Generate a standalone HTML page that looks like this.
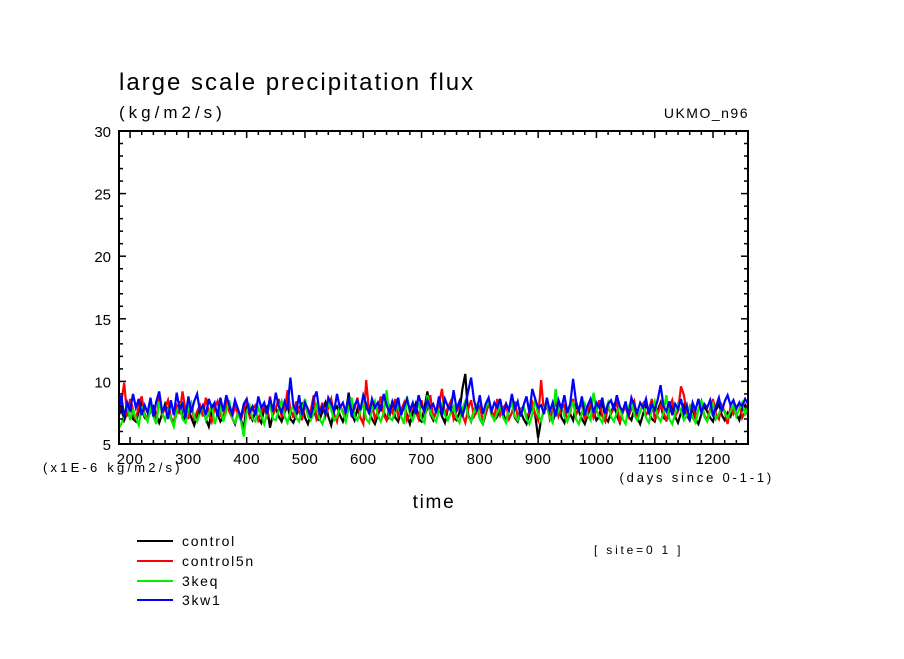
<!DOCTYPE html>
<html><head><meta charset="utf-8"><style>
body{margin:0;background:#fff;}
svg text{font-family:"Liberation Sans",sans-serif;fill:#000;}
</style></head><body>
<svg id="chart" width="904" height="654" xmlns="http://www.w3.org/2000/svg">
<defs><clipPath id="plotclip"><rect x="119" y="131" width="629" height="313"/></clipPath></defs>
<text x="119" y="90" font-size="24" letter-spacing="2">large scale precipitation flux</text>
<text x="119" y="118" font-size="17" letter-spacing="4">(kg/m2/s)</text>
<text x="749" y="118" font-size="14" letter-spacing="1.5" text-anchor="end">UKMO_n96</text>
<g id="series" clip-path="url(#plotclip)"></g>
<rect x="119" y="131" width="629" height="313" fill="none" stroke="#000" stroke-width="2"/>
<g id="axes"></g>
<text x="43" y="472" font-size="13" letter-spacing="3.2">(x1E-6 kg/m2/s)</text>
<text x="774" y="482" font-size="13" letter-spacing="2.8" text-anchor="end">(days since 0-1-1)</text>
<text x="434" y="508" font-size="19" letter-spacing="1.7" text-anchor="middle">time</text>
<text x="594" y="554" font-size="12" letter-spacing="2.8">[ site=0 1 ]</text>
<g id="legend"></g>
</svg>
<script>
const seriesNames = ["control","control5n","3keq","3kw1"];
const seriesColors = ["#000","#f00","#0e0","#00f"];
const dayStart = 180, dayStep = 5;
const xTicks = [200,300,400,500,600,700,800,900,1000,1100,1200];
const yTicks = [5,10,15,20,25,30];
const control = [
7.2,7.8,6.9,7.5,8.1,7.0,6.8,7.6,8.3,7.1,
6.9,7.7,8.0,7.3,6.7,7.4,8.2,7.6,7.0,6.6,
7.5,8.4,7.2,6.9,7.8,7.1,6.5,7.3,8.0,7.7,
7.0,6.4,7.6,8.1,7.4,6.8,7.2,7.9,8.3,7.1,
6.6,7.5,7.0,6.2,8.2,7.3,6.9,7.6,7.1,6.7,
7.8,8.0,6.3,7.4,7.9,7.2,6.8,7.5,8.1,7.0,
6.7,7.3,7.9,8.2,7.1,6.6,7.4,7.8,7.0,6.9,
7.6,8.3,7.2,6.5,7.7,8.0,7.3,6.8,7.5,9.1,
7.4,6.9,7.8,7.1,6.7,8.2,7.5,7.0,6.6,7.3,
8.0,7.6,6.9,7.2,8.4,7.1,6.8,7.7,8.1,7.3,
6.6,7.5,8.2,7.0,6.8,7.9,9.2,7.4,6.9,7.6,
8.0,7.2,6.7,7.8,8.3,7.1,6.9,7.5,9.4,10.6,
7.3,6.8,7.7,8.1,7.0,6.6,7.4,8.2,7.6,6.9,
7.2,8.0,7.5,6.7,7.9,8.3,7.1,6.8,7.6,7.0,
6.6,7.4,8.1,7.3,5.5,6.9,7.7,8.0,7.2,6.8,
7.5,8.2,7.1,6.7,7.8,7.4,6.9,8.1,7.6,7.0,
6.6,7.3,8.0,7.7,6.9,7.2,8.4,7.1,6.8,7.5,
8.1,7.3,6.7,7.6,8.0,7.2,6.9,7.8,7.1,6.6,
7.4,8.2,7.5,7.0,6.8,7.7,8.3,7.1,6.9,7.6,
8.0,7.2,6.7,7.5,8.1,7.3,6.9,7.8,7.0,6.6,
7.4,8.0,7.6,7.1,6.8,7.7,8.2,7.3,6.9,7.5,
7.2,8.0,7.4,6.9,7.8,8.1,7.3,7.0,7.6,7.2
];
const control5n = [
7.5,8.3,9.9,7.2,8.6,7.8,6.9,8.1,8.8,7.4,
7.0,8.2,7.6,6.8,8.9,7.3,7.9,8.5,7.1,6.7,
8.0,7.4,9.2,7.7,7.0,8.3,6.9,7.6,8.1,7.2,
8.7,7.5,6.8,7.9,8.4,7.3,7.0,8.6,7.6,7.1,
8.0,7.4,6.9,7.7,8.5,7.2,7.8,8.1,6.9,7.5,
8.3,7.0,8.8,7.3,7.9,8.6,7.2,7.5,9.3,7.8,
7.1,8.4,7.6,6.9,8.2,7.3,7.7,8.9,7.0,7.5,
8.3,7.2,7.9,8.6,7.4,6.8,8.1,7.6,7.0,8.4,
7.3,7.8,8.7,7.1,6.6,10.1,7.5,8.2,7.0,7.6,
8.8,7.3,6.9,8.0,7.5,8.6,7.2,7.7,8.3,6.9,
7.4,8.1,7.6,7.0,8.5,7.3,7.8,8.9,7.1,7.5,
8.2,9.4,7.3,7.9,8.4,7.0,7.6,8.1,7.3,6.7,
7.8,8.5,7.2,7.6,8.0,6.9,7.4,8.3,7.7,7.1,
8.6,7.3,7.9,8.2,7.0,7.5,8.4,7.2,7.8,8.0,
7.1,7.6,8.3,7.4,6.9,10.1,7.5,8.2,7.0,7.7,
8.4,7.2,7.8,8.1,6.8,7.5,8.6,7.3,7.9,8.2,
6.9,7.6,8.3,7.1,7.7,8.5,7.2,6.8,8.0,7.4,
7.9,8.3,6.7,7.5,8.1,7.2,7.8,8.4,6.9,7.6,
8.2,7.3,7.7,8.6,7.0,7.4,8.1,7.6,6.8,7.9,
8.5,7.2,7.6,9.6,8.9,7.5,7.9,8.2,7.1,7.7,
8.4,7.3,6.9,7.8,8.6,7.4,7.0,8.1,7.6,6.6,
8.0,7.4,7.9,8.3,7.1,7.6,8.2,7.5,7.0,7.8
];
const keq3 = [
6.2,6.6,7.4,8.2,6.9,7.7,7.1,6.5,8.0,7.3,
6.8,7.9,7.2,6.6,8.4,7.5,6.9,7.7,7.0,6.4,
7.6,8.1,7.0,6.7,7.8,8.3,7.2,6.8,7.5,8.0,
6.9,7.4,8.2,6.6,7.3,7.9,6.8,7.6,8.5,7.1,
6.7,7.4,6.9,5.6,7.6,8.1,7.0,6.8,7.9,7.3,
6.6,7.5,8.2,7.0,6.9,7.7,8.4,7.2,6.7,7.6,
8.0,7.1,6.8,7.8,8.6,7.3,6.9,7.5,8.1,7.0,
6.6,7.4,8.3,7.7,6.9,7.2,8.0,7.5,6.8,7.9,
8.7,7.2,6.9,7.6,8.2,7.0,6.7,7.8,8.4,7.3,
6.8,7.5,9.3,7.1,6.9,7.7,8.1,7.2,6.6,8.8,
7.4,6.9,7.6,8.3,7.0,6.7,8.9,7.5,7.1,6.8,
7.7,8.2,7.3,6.9,7.5,8.0,7.1,6.7,7.8,8.4,
7.2,6.8,7.6,8.1,7.0,6.6,7.9,8.5,7.3,6.9,
7.5,8.2,7.1,6.7,7.8,8.3,7.2,6.9,7.6,8.0,
7.0,6.6,7.4,8.6,7.3,6.8,7.9,8.2,7.1,6.7,
9.4,7.6,8.1,7.2,6.8,7.7,8.4,7.0,6.6,7.5,
8.2,7.3,6.9,9.1,7.8,7.1,6.7,7.6,8.3,7.2,
6.8,7.5,8.0,7.0,6.6,7.9,8.5,7.3,6.9,7.6,
8.1,7.1,6.7,7.8,8.4,7.2,6.8,7.5,8.9,7.0,
6.6,7.4,8.2,7.6,6.9,7.3,8.0,7.1,6.7,7.7,
8.5,7.2,6.8,7.6,8.2,7.0,7.4,8.0,7.5,7.1,
7.6,8.1,7.2,7.8,8.3,7.4,7.9,8.2,7.6,7.8
];
const kw1_3 = [
7.4,8.9,7.1,8.3,7.6,9.0,7.9,8.6,7.3,8.1,
7.5,8.7,7.2,8.4,9.2,7.6,8.0,7.0,8.5,7.3,
9.1,7.8,8.2,7.1,8.8,7.5,8.4,9.0,7.6,8.1,
7.3,8.6,7.9,8.3,7.2,8.7,7.6,8.9,8.1,7.4,
8.5,7.8,7.1,8.2,8.6,7.5,8.0,7.3,8.8,7.9,
8.3,7.4,8.7,7.6,9.1,8.0,7.5,8.4,7.8,10.3,
8.1,7.6,8.9,7.3,8.3,7.8,7.1,8.6,9.2,7.5,
8.0,7.4,8.7,8.2,7.6,9.0,7.9,8.3,7.5,8.8,
7.2,8.1,8.5,7.7,8.9,8.2,7.4,8.6,7.9,8.3,
7.6,9.0,8.1,7.5,8.4,7.8,8.7,7.3,8.0,8.6,
7.7,8.3,7.4,8.9,8.1,7.6,8.5,7.9,8.2,7.5,
8.8,7.3,8.6,8.0,7.7,9.3,7.8,8.4,7.2,8.1,
9.2,10.3,8.5,7.6,8.9,7.4,8.2,8.7,7.6,8.3,
7.9,8.6,7.3,8.2,7.7,9.0,7.8,8.4,7.2,8.1,
8.8,7.5,9.4,8.6,7.9,8.1,7.4,8.7,7.6,8.3,
7.2,8.5,7.8,8.9,7.5,8.2,10.2,8.4,7.6,8.8,
7.3,8.1,8.6,7.5,8.3,7.9,8.7,7.4,8.2,8.5,
7.7,8.9,8.0,7.6,8.4,7.2,8.7,8.1,7.5,8.3,
7.9,8.6,7.4,8.2,7.7,8.5,9.7,8.0,7.6,8.4,
7.3,8.2,7.8,8.6,7.4,8.1,6.9,8.3,7.7,8.6,
7.5,8.2,7.9,8.5,7.2,8.0,8.7,7.6,8.4,8.9,
8.1,8.5,7.8,8.3,8.0,8.6,8.2,7.9,8.4,8.1
];
const seriesData = [control, control5n, keq3, kw1_3];

const X0=119, X1=748, Y0=444, Y1=131, dMin=181, dMax=1260, vMin=5, vMax=30;
const xs = d => X0 + (d-dMin)/(dMax-dMin)*(X1-X0);
const ys = v => Y0 - (v-vMin)/(vMax-vMin)*(Y0-Y1);
const NS="http://www.w3.org/2000/svg";
function mk(tag, attrs){const e=document.createElementNS(NS,tag);for(const k in attrs)e.setAttribute(k,attrs[k]);return e;}

const sg=document.getElementById('series');
seriesData.forEach((arr,si)=>{
  const pts=arr.map((v,i)=>xs(dayStart+i*dayStep).toFixed(1)+","+ys(v).toFixed(1)).join(" ");
  const pl=mk('polyline',{points:pts,fill:'none',stroke:seriesColors[si],'stroke-width':2.2,'stroke-linejoin':'miter'});
  
  
  sg.appendChild(pl);
});

const ag=document.getElementById('axes');
for(let d=200; d<=1260; d+=20){
  const major = xTicks.includes(d), len = major?7:4;
  const x=xs(d);
  [[Y0,Y0-len],[Y1,Y1+len]].forEach(([a,b])=>{
    const t=mk('line',{x1:x,x2:x,y1:a,y2:b,stroke:'#000','stroke-width':1.5});
    
    
    ag.appendChild(t);
  });
}
xTicks.forEach(d=>{
  const t=mk('text',{x:xs(d),y:464,'font-size':15,'text-anchor':'middle','letter-spacing':0.5});
  t.textContent=d;
  
  
  ag.appendChild(t);
});
for(let v=6; v<30; v++){
  const major = yTicks.includes(v), len = major?7:4;
  const y=ys(v);
  [[X0,X0+len],[X1,X1-len]].forEach(([a,b])=>{
    const t=mk('line',{x1:a,x2:b,y1:y,y2:y,stroke:'#000','stroke-width':1.5});
    
    
    ag.appendChild(t);
  });
}
yTicks.forEach(v=>{
  const t=mk('text',{x:111,y:ys(v)+6,'font-size':15,'text-anchor':'end'});
  t.textContent=v;
  
  
  ag.appendChild(t);
});

const lg=document.getElementById('legend');
const legendY=[541,561,581,600];
seriesNames.forEach((n,i)=>{
  const l=mk('line',{x1:137,x2:173,y1:legendY[i],y2:legendY[i],stroke:seriesColors[i],'stroke-width':2});
  
  
  lg.appendChild(l);
  const t=mk('text',{x:182,y:legendY[i]+5,'font-size':14,'letter-spacing':1.7});
  t.textContent=n;
  
  
  lg.appendChild(t);
});
</script>
</body></html>
